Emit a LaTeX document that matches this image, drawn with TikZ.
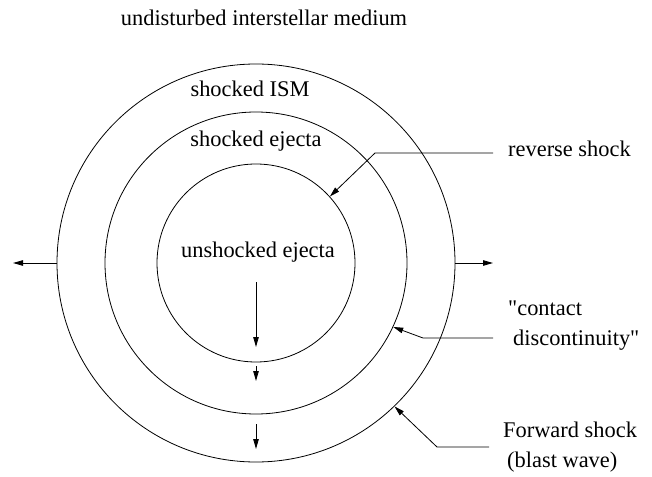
\documentclass[tikz,border=0pt]{standalone}
\usepackage{fontspec}
\setmainfont{Liberation Serif}[Ligatures=TeXOff]
\usetikzlibrary{arrows.meta}
\begin{document}
\begin{tikzpicture}[x=1bp,y=-1bp,
  ring/.style={circle,draw,line width=0.8bp,inner sep=0pt},
  lbl/.style={inner sep=0pt,font=\fontsize{22.4bp}{27bp}\selectfont},
  arr/.style={line width=0.8bp,-{Triangle[length=10bp,width=5.5bp]}},
  ln/.style={line width=0.8bp}]
\useasboundingbox (0,0) rectangle (652,477);
% rings
\node[ring,minimum size=398bp] (outer) at (256,263) {};
\node[ring,minimum size=302bp] (middle) at (256,263) {};
\node[ring,minimum size=198bp] (inner) at (256,263) {};
% labels
\node[lbl,anchor=base] (ism) at (264,26) {undisturbed interstellar medium};
\node[lbl,anchor=base] (sism) at (250,97) {shocked ISM};
\node[lbl,anchor=base] (sej) at (256,147) {shocked ejecta};
\node[lbl,anchor=base] (uej) at (258,258) {unshocked ejecta};
\node[lbl,anchor=base west] (rs) at (508,157) {reverse shock};
\node[lbl,anchor=base west] (cd1) at (508,315) {"contact};
\node[lbl,anchor=base west] (cd2) at (513,345) {discontinuity"};
\node[lbl,anchor=base west] (fs1) at (503,437) {Forward shock};
\node[lbl,anchor=base west] (fs2) at (507,467) {(blast wave)};
% horizontal arrows
\coordinate (lt) at (13,263);
\coordinate (rt) at (493,263);
\draw[arr] (outer.west) -- (lt);
\draw[arr] (outer.east) -- (rt);
% downward arrows
\coordinate (d1a) at (256,282); \coordinate (d1b) at (256,347);
\coordinate (d2a) at (256,366); \coordinate (d2b) at (256,381);
\coordinate (d3a) at (256,424); \coordinate (d3b) at (256,449);
\draw[arr] (d1a) -- (d1b);
\draw[arr] (d2a) -- (d2b);
\draw[arr] (d3a) -- (d3b);
% leader lines
\coordinate (r0) at (493,153); \coordinate (rk) at (375,153);
\draw[arr] (r0) -- (rk) -- (inner.42);
\coordinate (c0) at (493,338); \coordinate (ck) at (423,338);
\draw[arr] (c0) -- (ck) -- (middle.-25.5);
\coordinate (f0) at (489,447); \coordinate (fk) at (437,447);
\draw[arr] (f0) -- (fk) -- (outer.-46.5);
\end{tikzpicture}
\end{document}
